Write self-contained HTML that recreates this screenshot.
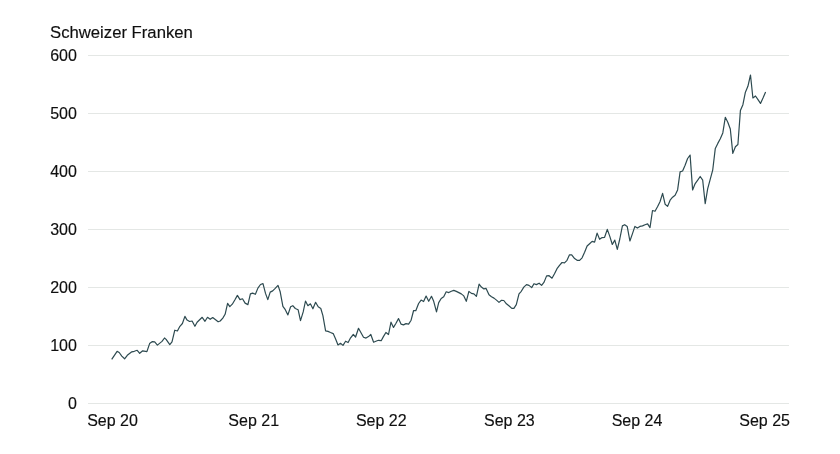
<!DOCTYPE html>
<html><head><meta charset="utf-8"><title>Chart</title>
<style>
html,body{margin:0;padding:0;background:#fff;}
body{width:840px;height:454px;overflow:hidden;}
svg{display:block;}
svg text{font-family:"Liberation Sans",sans-serif;font-size:16px;fill:#0f0f0f;stroke:#0f0f0f;stroke-width:0.15px;}
</style></head>
<body>
<svg width="840" height="454" viewBox="0 0 840 454">
<rect width="840" height="454" fill="#ffffff"/>
<defs><mask id="m" maskUnits="userSpaceOnUse" x="0" y="0" width="840" height="454"><rect width="840" height="454" fill="#fff"/></mask></defs>
<line x1="88" x2="789" y1="55.5" y2="55.5" stroke="#e4e7e5" stroke-width="1"/>
<line x1="88" x2="789" y1="113.5" y2="113.5" stroke="#e4e7e5" stroke-width="1"/>
<line x1="88" x2="789" y1="171.5" y2="171.5" stroke="#e4e7e5" stroke-width="1"/>
<line x1="88" x2="789" y1="229.5" y2="229.5" stroke="#e4e7e5" stroke-width="1"/>
<line x1="88" x2="789" y1="287.5" y2="287.5" stroke="#e4e7e5" stroke-width="1"/>
<line x1="88" x2="789" y1="345.5" y2="345.5" stroke="#e4e7e5" stroke-width="1"/>
<line x1="88" x2="789" y1="403.5" y2="403.5" stroke="#e4e7e5" stroke-width="1"/>
<g mask="url(#m)">
<text x="50" y="38.4" style="font-size:16.7px">Schweizer Franken</text>
<text x="76.9" y="60.8" text-anchor="end">600</text>
<text x="76.9" y="118.8" text-anchor="end">500</text>
<text x="76.9" y="176.8" text-anchor="end">400</text>
<text x="76.9" y="234.8" text-anchor="end">300</text>
<text x="76.9" y="292.8" text-anchor="end">200</text>
<text x="76.9" y="350.8" text-anchor="end">100</text>
<text x="76.9" y="408.8" text-anchor="end">0</text>
<text x="87.2" y="425.6" text-anchor="start">Sep 20</text>
<text x="253.7" y="425.6" text-anchor="middle">Sep 21</text>
<text x="381.3" y="425.6" text-anchor="middle">Sep 22</text>
<text x="509.4" y="425.6" text-anchor="middle">Sep 23</text>
<text x="637.0" y="425.6" text-anchor="middle">Sep 24</text>
<text x="790.0" y="425.6" text-anchor="end">Sep 25</text>
</g>
<path d="M111.7,359.3 L117.1,351.4 L119.2,352.5 L121.8,356.1 L124.6,358.8 L127.3,355.3 L131.8,351.8 L134.3,351.3 L137.2,350.3 L139.7,353.3 L142.7,350.8 L146.9,351.6 L149.6,343.6 L152.4,341.6 L154.7,341.9 L157.4,345.1 L162.0,341.4 L164.5,338.0 L166.1,339.4 L169.8,344.6 L172.0,341.9 L174.8,330.2 L177.4,331.0 L179.9,326.3 L182.4,323.5 L184.9,316.4 L187.1,320.1 L189.6,321.5 L192.1,321.0 L194.9,326.3 L197.1,322.3 L202.2,317.3 L205.0,321.3 L207.5,317.3 L210.2,319.3 L212.7,317.6 L215.6,319.8 L218.1,321.8 L220.2,321.0 L222.8,318.1 L225.1,314.3 L227.6,303.4 L229.8,306.7 L232.3,304.2 L234.8,300.0 L237.4,295.4 L240.0,299.6 L242.5,298.8 L245.1,303.1 L247.9,304.6 L250.4,293.9 L252.6,293.1 L255.4,294.3 L257.9,288.1 L260.5,284.5 L263.0,283.6 L265.5,293.4 L267.8,299.6 L270.2,292.1 L272.7,290.9 L275.2,288.4 L278.0,285.4 L280.2,291.8 L282.9,306.3 L285.3,309.7 L287.9,314.9 L290.6,306.8 L292.8,305.7 L295.3,308.5 L298.1,309.7 L300.5,320.6 L303.2,311.9 L305.5,301.0 L307.9,305.7 L310.4,303.8 L312.9,308.8 L315.6,302.3 L318.2,306.8 L320.8,308.5 L322.9,315.7 L325.6,330.8 L328.0,331.4 L330.5,332.5 L333.2,333.6 L335.5,338.7 L338.0,345.0 L340.5,343.3 L343.0,345.4 L345.6,341.2 L348.1,342.5 L350.6,337.8 L353.3,334.5 L355.6,337.0 L358.5,328.3 L361.0,332.8 L363.5,337.3 L366.0,338.1 L368.5,336.6 L370.8,334.5 L373.6,342.2 L375.9,341.2 L378.4,340.3 L381.2,340.7 L383.4,336.6 L385.9,332.5 L388.5,334.5 L391.0,322.2 L393.5,327.4 L396.0,323.2 L398.5,318.6 L401.0,324.1 L403.5,324.9 L406.0,323.6 L408.6,324.1 L411.1,320.2 L413.6,310.5 L415.8,310.7 L418.6,303.5 L421.1,300.1 L423.6,301.5 L426.1,296.1 L428.7,301.3 L431.5,296.3 L433.7,301.3 L436.5,311.9 L438.7,302.6 L441.2,298.5 L443.7,296.8 L446.2,291.8 L448.8,292.6 L451.3,291.2 L453.8,290.4 L456.3,291.4 L458.8,292.6 L461.3,293.9 L463.8,295.9 L466.3,301.3 L468.9,291.4 L471.4,293.4 L473.9,293.8 L476.4,296.4 L479.1,284.2 L481.4,287.1 L483.9,288.9 L486.1,288.4 L489.0,294.8 L491.5,296.8 L494.0,298.1 L496.5,300.1 L499.0,302.4 L501.5,300.3 L503.8,300.5 L506.4,303.8 L509.2,306.0 L511.8,308.4 L513.9,308.4 L516.3,304.7 L519.0,293.8 L521.3,291.3 L523.8,287.1 L526.5,284.6 L529.0,285.4 L531.7,287.6 L534.0,283.7 L536.4,284.6 L539.1,283.2 L541.6,285.4 L544.1,282.1 L546.6,275.9 L549.1,275.7 L552.0,278.2 L554.5,273.7 L557.0,268.7 L559.5,265.3 L562.0,262.5 L564.5,262.8 L567.0,260.3 L569.5,254.8 L571.7,254.9 L574.6,258.6 L577.1,260.3 L579.6,260.3 L582.1,257.8 L584.6,252.2 L587.1,246.0 L589.6,243.7 L592.1,241.4 L594.6,242.1 L597.1,233.1 L599.6,239.3 L602.1,237.6 L604.6,237.3 L607.3,229.4 L609.8,236.4 L612.3,244.5 L614.8,240.1 L617.3,249.3 L619.8,239.0 L622.4,225.9 L624.7,224.7 L627.2,226.4 L629.9,241.0 L632.4,233.9 L634.9,226.4 L637.4,228.1 L639.9,226.4 L642.5,225.9 L645.0,224.7 L647.6,223.9 L650.0,227.6 L652.5,210.5 L655.0,211.3 L657.5,206.8 L660.0,201.8 L662.6,193.4 L665.1,204.2 L667.6,206.4 L670.1,200.2 L672.6,197.2 L675.1,195.2 L677.6,189.9 L680.1,171.9 L682.6,171.0 L685.1,165.2 L687.6,158.5 L690.1,155.1 L692.6,189.9 L695.2,183.6 L697.7,180.2 L700.2,176.5 L702.7,180.2 L705.2,203.7 L707.7,188.6 L710.2,179.4 L712.7,170.2 L715.3,148.4 L717.8,143.4 L720.3,138.8 L722.8,132.9 L725.3,117.3 L727.8,122.3 L730.3,129.0 L732.8,153.4 L735.4,146.7 L737.9,144.5 L740.4,110.6 L742.9,104.7 L745.4,92.2 L747.9,86.3 L750.5,75.0 L752.9,98.0 L755.5,96.0 L758.0,99.7 L760.5,103.4 L763.0,98.0 L765.6,92.0" fill="none" stroke="#2d4a50" stroke-width="1.2" stroke-linejoin="round" stroke-linecap="butt"/>
</svg>
</body></html>
